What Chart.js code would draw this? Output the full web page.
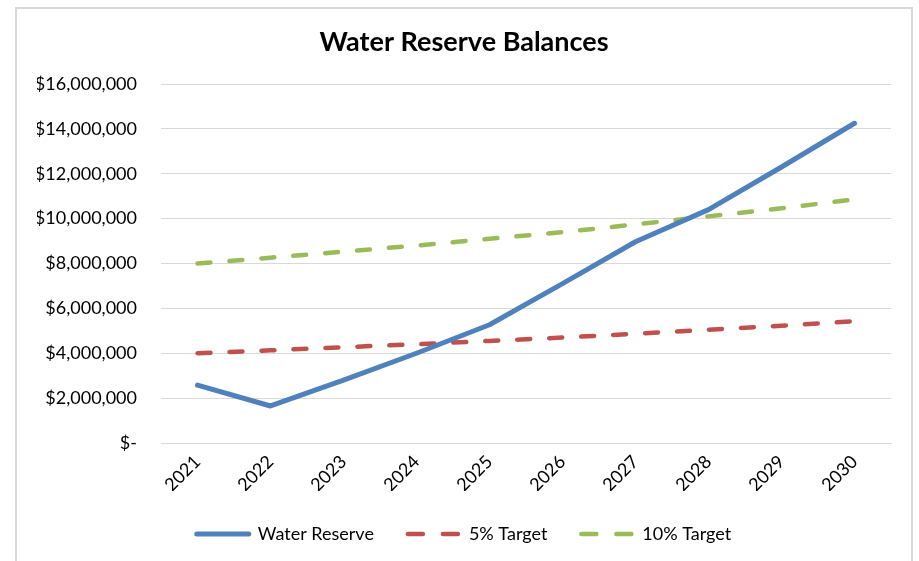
<!DOCTYPE html>
<html>
<head>
<meta charset="utf-8">
<script src="https://cdn.jsdelivr.net/npm/chart.js@4"></script>
<style>
  body { margin: 0; background: #fff; }
  #wrap { position: absolute; left: 0; top: 0; width: 919px; height: 561px; }
  #frame { position: absolute; left: 15px; top: 7px; width: 898px; height: 570px; border: 2px solid #d9d9d9; box-sizing: border-box; pointer-events: none; }
</style>
</head>
<body>
<div id="wrap"><canvas id="chart" width="919" height="561"></canvas></div>
<div id="frame"></div>
<script>
const years = ["2021", "2022", "2023", "2024", "2025", "2026", "2027", "2028", "2029", "2030"]
const waterReserve = [2580000, 1650000, 2800000, 4000000, 5270000, 7100000, 8970000, 10400000, 12300000, 14250000]
const target5 = [4000000, 4130000, 4270000, 4400000, 4550000, 4700000, 4870000, 5050000, 5230000, 5430000]
const target10 = [8000000, 8260000, 8530000, 8800000, 9100000, 9400000, 9740000, 10100000, 10460000, 10860000]

const font = "Lato, 'Open Sans', sans-serif"
const grid = "#d9d9d9"

function money(v) {
    if (v === 0) return "$-"
    return "$" + v.toLocaleString("en-US")
}

const ctx = document.getElementById("chart")

new Chart(ctx, {
    type: "line",
    data: {
        labels: years,
        datasets: [
            {
                label: "Water Reserve",
                data: waterReserve,
                borderColor: "#4f81bd",
                backgroundColor: "#4f81bd",
                borderWidth: 5,
                borderCapStyle: "round",
                borderJoinStyle: "round",
                pointRadius: 0,
                tension: 0
            },
            {
                label: "5% Target",
                data: target5,
                borderColor: "#c0504d",
                backgroundColor: "#c0504d",
                borderWidth: 4.5,
                borderDash: [13, 19],
                borderCapStyle: "round",
                pointRadius: 0
            },
            {
                label: "10% Target",
                data: target10,
                borderColor: "#9bbb59",
                backgroundColor: "#9bbb59",
                borderWidth: 4.5,
                borderDash: [13, 19],
                borderCapStyle: "round",
                pointRadius: 0
            }
        ]
    },
    options: {
        responsive: false,
        animation: false,
        layout: { padding: { left: 37, right: 28, top: 0, bottom: 8 } },
        scales: {
            x: {
                offset: true,
                grid: { display: false, drawTicks: false },
                border: { color: grid, width: 1 },
                ticks: {
                    color: "#000",
                    font: { family: font, size: 18 },
                    minRotation: 45,
                    maxRotation: 45,
                    padding: 8
                },
                afterFit: (s) => { s.height = 48 }
            },
            y: {
                min: 0,
                max: 16000000,
                grid: { color: grid, lineWidth: 1, drawTicks: false },
                border: { display: false },
                ticks: {
                    stepSize: 2000000,
                    color: "#000",
                    font: { family: font, size: 18 },
                    padding: 24,
                    callback: (v) => money(v)
                },
                afterFit: (s) => { s.width = 124 }
            }
        },
        plugins: {
            title: {
                display: true,
                text: "Water Reserve Balances",
                color: "#000",
                font: { family: font, size: 27, weight: "bold" },
                padding: { top: 26, bottom: 25.6 }
            },
            legend: {
                position: "bottom",
                labels: {
                    color: "#000",
                    font: { family: font, size: 18 },
                    usePointStyle: true,
                    pointStyle: "line",
                    pointStyleWidth: 52,
                    padding: 34,
                    generateLabels: (chart) => {
                        const items = Chart.defaults.plugins.legend.labels.generateLabels(chart)
                        items.forEach((it, i) => {
                            const ds = chart.data.datasets[i]
                            it.lineDash = ds.borderDash ? [15, 20] : []
                            it.lineCap = "round"
                            it.lineWidth = ds.borderWidth
                            it.strokeStyle = ds.borderColor
                        })
                        return items
                    }
                }
            },
            tooltip: { enabled: false }
        }
    }
})
</script>
</body>
</html>
